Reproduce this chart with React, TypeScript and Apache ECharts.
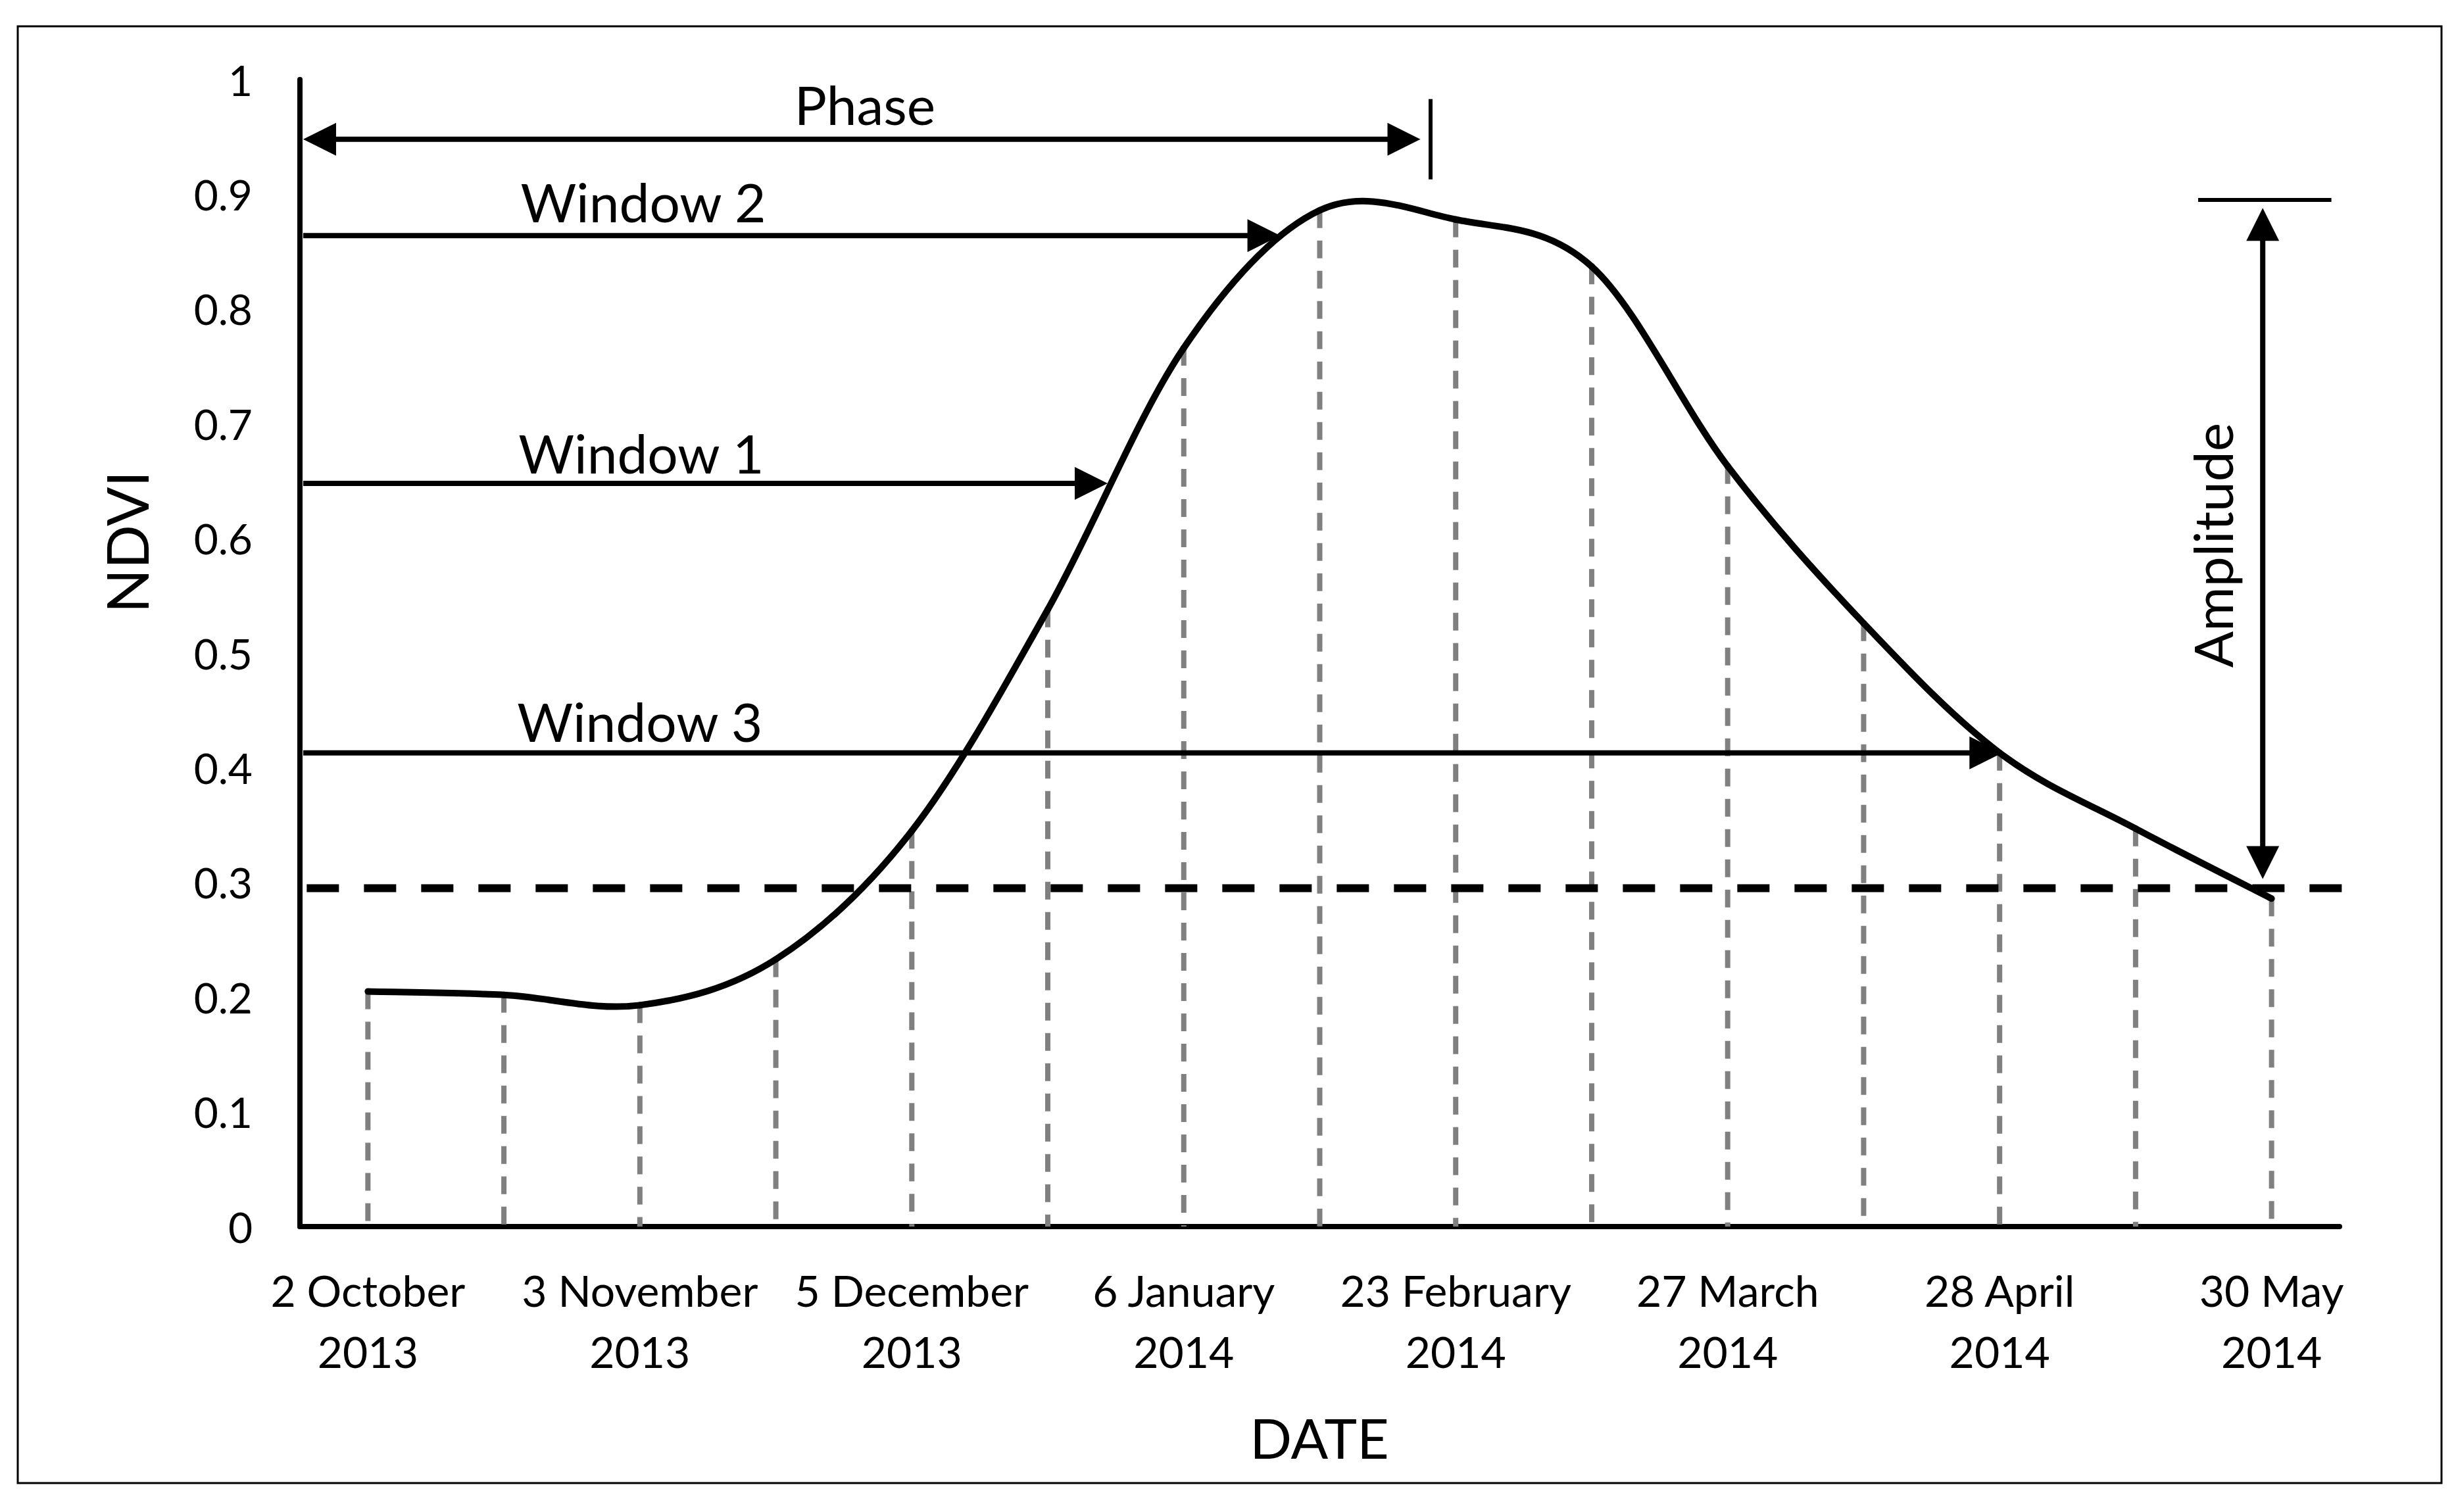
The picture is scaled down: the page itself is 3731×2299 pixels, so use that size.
import React, { useEffect, useRef } from "react";
import * as echarts from "echarts";

const W = 3731;
const H = 2299;
const FONT = "Lato, 'Open Sans', sans-serif";

// Dates (every other acquisition labelled)
const categories: string[] = [
  "2 October\n2013", "",
  "3 November\n2013", "",
  "5 December\n2013", "",
  "6 January\n2014", "",
  "23 February\n2014", "",
  "27 March\n2014", "",
  "28 April\n2014", "",
  "30 May\n2014",
];

// NDVI profile
const ndvi: number[] = [
  0.205, 0.202, 0.193, 0.233, 0.345, 0.538, 0.766, 0.886,
  0.878, 0.837, 0.663, 0.526, 0.413, 0.347, 0.286,
];

const yTickLabels: string[] = ["0", "0.1", "0.2", "0.3", "0.4", "0.5", "0.6", "0.7", "0.8", "0.9", "1"];

// Annotations in data space (category index, NDVI value)
const thresholdValue = 0.295;
const thresholdSpan: number[] = [-0.45, 14.61];

const phaseArrow = { from: -0.476, to: 7.74, value: 0.948 };
const phaseTick = { index: 7.815, top: 0.983, bottom: 0.913 };
const phaseLabel = { text: "Phase", index: 3.655, value: 0.979 };

const windowNames: string[] = ["Window 1", "Window 2", "Window 3"];
const windowTips: number[] = [5.44, 6.71, 12.02];
const windowValues: number[] = [0.648, 0.864, 0.413];
const windowLabelIndex: number[] = [2.01, 2.025, 2.0];
const windowLabelValues: number[] = [0.675, 0.894, 0.441];
const windowStart = -0.476;

const amplitude = { index: 13.935, barTop: 0.895, barFrom: 13.46, barTo: 14.44, tipTop: 0.888, tipBottom: 0.303 };
const amplitudeLabel = { text: "Amplitude", index: 13.56, value: 0.594 };

export default function App() {
  const ref = useRef<HTMLDivElement>(null);

  useEffect(() => {
    if (!ref.current) return;
    const chart = echarts.init(ref.current, undefined, { renderer: "svg", width: W, height: H });
    const n = ndvi.length;
    const seriesData = ndvi.map((v, i) => [i, v]);

    chart.setOption({
      animation: false,
      backgroundColor: "#ffffff",
      grid: { left: 456, right: 174, top: 121, bottom: 434, containLabel: false },
      xAxis: {
        type: "category",
        data: categories,
        boundaryGap: true,
        axisLine: { show: true, lineStyle: { color: "#000", width: 8 } },
        axisTick: { show: false },
        splitLine: { show: false },
        axisLabel: {
          interval: 1,
          margin: 50,
          color: "#000",
          fontFamily: FONT,
          fontSize: 66,
          lineHeight: 93,
          align: "center",
        },
      },
      yAxis: {
        type: "value",
        min: 0,
        max: 1,
        interval: 0.1,
        axisLine: { show: true, lineStyle: { color: "#000", width: 8 } },
        axisTick: { show: false },
        splitLine: { show: false },
        axisLabel: {
          margin: 72,
          color: "#000",
          fontFamily: FONT,
          fontSize: 64,
          formatter: (v: number) => yTickLabels[Math.round(v * 10)] ?? "",
        },
      },
      series: [
        {
          // grey dashed drop lines
          type: "custom",
          data: seriesData,
          encode: { x: 0, y: 1 },
          z: 1,
          silent: true,
          clip: false,
          renderItem: (params: any, api: any) => {
            const i = api.value(0);
            const v = api.value(1);
            const top = api.coord([i, v]);
            const bot = api.coord([i, 0]);
            return {
              type: "line",
              shape: { x1: top[0], y1: top[1], x2: bot[0], y2: bot[1] },
              style: { stroke: "#808080", lineWidth: 8, lineDash: [27, 19], fill: "none" },
            };
          },
        },
        {
          // smoothed NDVI curve (cardinal spline through the points)
          type: "custom",
          data: seriesData,
          encode: { x: 0, y: 1 },
          z: 10,
          silent: true,
          clip: false,
          renderItem: (params: any, api: any) => {
            const i = params.dataIndex;
            if (i >= n - 1) return { type: "group", children: [] };
            const P = (k: number) => {
              const kk = Math.max(0, Math.min(n - 1, k));
              return api.coord([kk, ndvi[kk]]);
            };
            const p0 = P(i - 1), p1 = P(i), p2 = P(i + 1), p3 = P(i + 2);
            return {
              type: "bezierCurve",
              shape: {
                x1: p1[0], y1: p1[1],
                x2: p2[0], y2: p2[1],
                cpx1: p1[0] + (p2[0] - p0[0]) / 6,
                cpy1: p1[1] + (p2[1] - p0[1]) / 6,
                cpx2: p2[0] - (p3[0] - p1[0]) / 6,
                cpy2: p2[1] - (p3[1] - p1[1]) / 6,
              },
              style: { stroke: "#000", lineWidth: 10, fill: "none", lineCap: "round" },
            };
          },
        },
      ],
    });

    const x0 = chart.convertToPixel({ xAxisIndex: 0 }, 0) as number;
    const x1 = chart.convertToPixel({ xAxisIndex: 0 }, 1) as number;
    const px = (i: number) => x0 + (x1 - x0) * i;
    const py = (v: number) => chart.convertToPixel({ yAxisIndex: 0 }, v) as number;

    const HEAD_L = 50;
    const HEAD_H = 25;
    const LW = 8;
    const Z = 20;

    const hArrowRight = (xa: number, xb: number, y: number) => [
      { type: "line", z: Z, shape: { x1: xa, y1: y, x2: xb - HEAD_L + 4, y2: y }, style: { stroke: "#000", lineWidth: LW } },
      { type: "polygon", z: Z, shape: { points: [[xb, y], [xb - HEAD_L, y - HEAD_H], [xb - HEAD_L, y + HEAD_H]] }, style: { fill: "#000" } },
    ];

    const graphics: any[] = [];

    // outer frame
    graphics.push({
      type: "rect", z: Z,
      shape: { x: 27, y: 40, width: 3685, height: 2215 },
      style: { fill: "none", stroke: "#000", lineWidth: 3 },
    });

    // threshold dashed line
    graphics.push({
      type: "line", z: 15,
      shape: { x1: px(thresholdSpan[0]), y1: py(thresholdValue), x2: px(thresholdSpan[1]), y2: py(thresholdValue) },
      style: { stroke: "#000", lineWidth: 12, lineDash: [49, 38] },
    });

    // phase double arrow
    {
      const y = py(phaseArrow.value);
      const xa = px(phaseArrow.from);
      const xb = px(phaseArrow.to);
      graphics.push(
        { type: "line", z: Z, shape: { x1: xa + HEAD_L - 4, y1: y, x2: xb - HEAD_L + 4, y2: y }, style: { stroke: "#000", lineWidth: LW } },
        { type: "polygon", z: Z, shape: { points: [[xa, y], [xa + HEAD_L, y - HEAD_H], [xa + HEAD_L, y + HEAD_H]] }, style: { fill: "#000" } },
        { type: "polygon", z: Z, shape: { points: [[xb, y], [xb - HEAD_L, y - HEAD_H], [xb - HEAD_L, y + HEAD_H]] }, style: { fill: "#000" } },
        { type: "line", z: Z, shape: { x1: px(phaseTick.index), y1: py(phaseTick.top), x2: px(phaseTick.index), y2: py(phaseTick.bottom) }, style: { stroke: "#000", lineWidth: 6 } },
        {
          type: "text", z: Z, x: px(phaseLabel.index), y: py(phaseLabel.value),
          style: { text: phaseLabel.text, fill: "#000", fontFamily: FONT, fontSize: 82, align: "center", verticalAlign: "middle" },
        },
      );
    }

    // window arrows
    windowNames.forEach((name, k) => {
      graphics.push(...hArrowRight(px(windowStart), px(windowTips[k]), py(windowValues[k])));
      graphics.push({
        type: "text", z: Z, x: px(windowLabelIndex[k]), y: py(windowLabelValues[k]),
        style: { text: name, fill: "#000", fontFamily: FONT, fontSize: 82, align: "center", verticalAlign: "middle" },
      });
    });

    // amplitude
    {
      const x = px(amplitude.index);
      const yt = py(amplitude.tipTop);
      const yb = py(amplitude.tipBottom);
      graphics.push(
        { type: "line", z: Z, shape: { x1: px(amplitude.barFrom), y1: py(amplitude.barTop), x2: px(amplitude.barTo), y2: py(amplitude.barTop) }, style: { stroke: "#000", lineWidth: 6 } },
        { type: "line", z: Z, shape: { x1: x, y1: yt + HEAD_L - 4, x2: x, y2: yb - HEAD_L + 4 }, style: { stroke: "#000", lineWidth: LW } },
        { type: "polygon", z: Z, shape: { points: [[x, yt], [x - HEAD_H, yt + HEAD_L], [x + HEAD_H, yt + HEAD_L]] }, style: { fill: "#000" } },
        { type: "polygon", z: Z, shape: { points: [[x, yb], [x - HEAD_H, yb - HEAD_L], [x + HEAD_H, yb - HEAD_L]] }, style: { fill: "#000" } },
        {
          type: "text", z: Z, x: px(amplitudeLabel.index), y: py(amplitudeLabel.value), rotation: Math.PI / 2,
          style: { text: amplitudeLabel.text, fill: "#000", fontFamily: FONT, fontSize: 82, align: "center", verticalAlign: "middle" },
        },
      );
    }

    // axis titles
    graphics.push(
      {
        type: "text", z: Z, x: 192, y: 824, rotation: Math.PI / 2,
        style: { text: "NDVI", fill: "#000", fontFamily: FONT, fontSize: 88, align: "center", verticalAlign: "middle" },
      },
      {
        type: "text", z: Z, x: 2006, y: 2185,
        style: { text: "DATE", fill: "#000", fontFamily: FONT, fontSize: 84, align: "center", verticalAlign: "middle" },
      },
    );

    chart.setOption({ graphic: graphics });

    return () => chart.dispose();
  }, []);

  return (
    <div
      ref={ref}
      style={{ position: "fixed", left: 0, top: 0, width: W, height: H, background: "#fff" }}
    />
  );
}
